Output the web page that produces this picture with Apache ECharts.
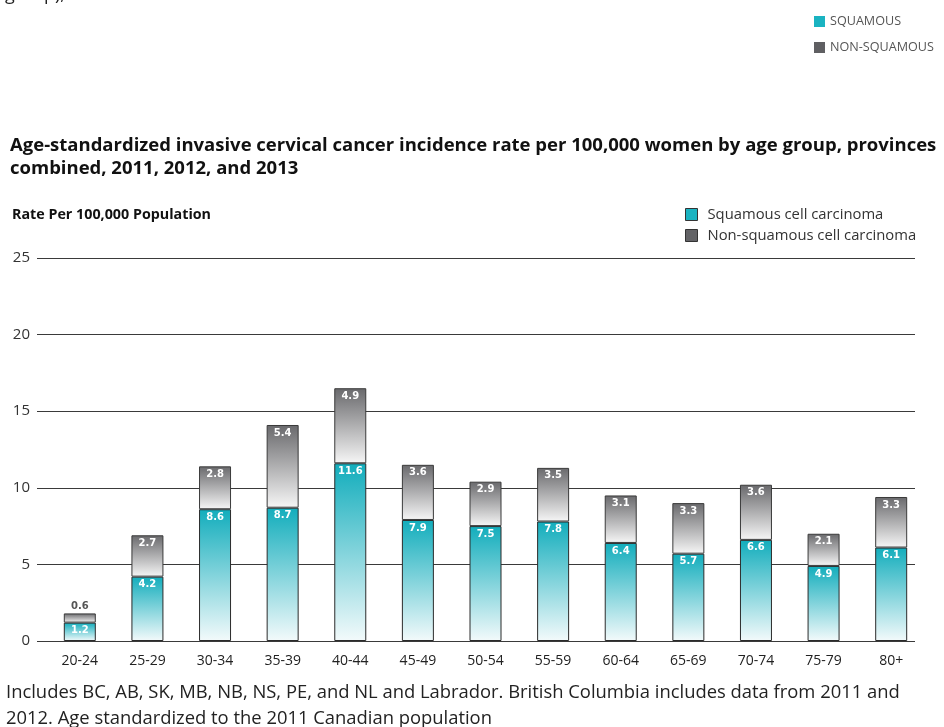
<!DOCTYPE html>
<html>
<head>
<meta charset="utf-8">
<script src="https://cdn.jsdelivr.net/npm/echarts@6/dist/echarts.min.js"></script>
<style>
  html, body { margin: 0; padding: 0; background: #fff; }
  #chart { width: 944px; height: 727px; }
</style>
</head>
<body>
<div id="chart"></div>
<script>
  // age groups and rates per 100,000
  const ageGroups = ['20-24', '25-29', '30-34', '35-39', '40-44', '45-49', '50-54',
                     '55-59', '60-64', '65-69', '70-74', '75-79', '80+'];
  const squamous = [1.2, 4.2, 8.6, 8.7, 11.6, 7.9, 7.5, 7.8, 6.4, 5.7, 6.6, 4.9, 6.1];
  const nonSquamous = [0.6, 2.7, 2.8, 5.4, 4.9, 3.6, 2.9, 3.5, 3.1, 3.3, 3.6, 2.1, 3.3];
  const yTicks = [0, 5, 10, 15, 20, 25];

  const SQ = 'Squamous cell carcinoma';
  const NSQ = 'Non-squamous cell carcinoma';
  const font = 'Open Sans';

  const chart = echarts.init(document.getElementById('chart'));

  const tealGrad = new echarts.graphic.LinearGradient(0, 0, 0, 1, [
    { offset: 0, color: '#12adbc' },
    { offset: 1, color: '#f3fafb' }
  ]);
  const greyGrad = new echarts.graphic.LinearGradient(0, 0, 0, 1, [
    { offset: 0, color: '#69696c' },
    { offset: 1, color: '#f6f6f6' }
  ]);

  const barLabel = {
    show: true,
    position: 'insideTop',
    distance: 3,
    color: '#fff',
    fontFamily: 'DejaVu Sans',
    fontWeight: 'bold',
    fontSize: 10
  };

  // the first non-squamous value is too small, its label sits above the bar
  const nonData = nonSquamous.map((v, i) => i === 0
    ? { value: v, label: { position: 'top', distance: 2, color: '#555' } }
    : v);

  chart.setOption({
    backgroundColor: '#fff',
    animation: false,
    textStyle: { fontFamily: font },
    title: [{
      // cut-off line from the text above the chart
      text: 'group), 2011 to 2013',
      left: 0,
      top: -19,
      textStyle: { fontFamily: font, fontSize: 18, fontWeight: 'normal', color: '#222' }
    }, {
      text: 'Age-standardized invasive cervical cancer incidence rate per 100,000 women by age group, provinces\ncombined, 2011, 2012, and 2013',
      left: 5,
      top: 129,
      textStyle: { fontFamily: font, fontSize: 18.5, fontWeight: 'bold', color: '#111', lineHeight: 23 }
    }, {
      text: 'Rate Per 100,000 Population',
      left: 7,
      top: 203,
      textStyle: { fontFamily: font, fontSize: 14.3, fontWeight: 'bold', color: '#111' }
    }, {
      text: 'Includes BC, AB, SK, MB, NB, NS, PE, and NL and Labrador. British Columbia includes data from 2011 and\n2012. Age standardized to the 2011 Canadian population',
      left: 1,
      top: 675,
      textStyle: { fontFamily: font, fontSize: 18.4, fontWeight: 'normal', color: '#222', lineHeight: 26 }
    }],
    legend: [{
      left: 809,
      top: 10,
      orient: 'vertical',
      itemGap: 13,
      itemWidth: 11,
      itemHeight: 11,
      icon: 'rect',
      textStyle: { fontFamily: font, fontSize: 12.6, color: '#555' },
      formatter: n => n === SQ ? 'SQUAMOUS' : 'NON-SQUAMOUS',
      data: [
        { name: SQ, itemStyle: { color: '#1ab3c1', borderWidth: 0 } },
        { name: NSQ, itemStyle: { color: '#5f5f62', borderWidth: 0 } }
      ]
    }, {
      left: 680,
      top: 202,
      orient: 'vertical',
      itemGap: 6,
      itemWidth: 12,
      itemHeight: 12,
      icon: 'rect',
      textStyle: { fontFamily: font, fontSize: 14.8, color: '#333', padding: [0, 0, 0, 5] },
      data: [
        { name: SQ, itemStyle: { color: '#1ab3c1', borderColor: '#333', borderWidth: 1 } },
        { name: NSQ, itemStyle: { color: '#636366', borderColor: '#333', borderWidth: 1 } }
      ]
    }],
    grid: [
      // grid lines and y labels
      { left: 37, right: 29, top: 258, bottom: 86 },
      // bars
      { left: 46, right: 19, top: 258, bottom: 86 }
    ],
    xAxis: [{
      gridIndex: 0,
      type: 'category',
      data: ageGroups,
      show: false
    }, {
      gridIndex: 1,
      type: 'category',
      data: ageGroups,
      axisLine: { show: false },
      axisTick: { show: false },
      axisLabel: { margin: 13, fontFamily: font, fontSize: 14, color: '#222' }
    }],
    yAxis: [{
      gridIndex: 0,
      type: 'value',
      min: yTicks[0],
      max: yTicks[yTicks.length - 1],
      interval: 5,
      axisLine: { show: false },
      axisTick: { show: false },
      axisLabel: { margin: 7, fontFamily: font, fontSize: 15, color: '#333' },
      splitLine: { lineStyle: { color: '#3a3a3a', width: 1 } }
    }, {
      gridIndex: 1,
      type: 'value',
      min: yTicks[0],
      max: yTicks[yTicks.length - 1],
      interval: 5,
      show: false,
      splitLine: { show: false }
    }],
    series: [{
      name: SQ,
      type: 'bar',
      stack: 'rate',
      xAxisIndex: 1,
      yAxisIndex: 1,
      barWidth: 32,
      itemStyle: { color: tealGrad, borderColor: '#2b2b2b', borderWidth: 1 },
      label: barLabel,
      data: squamous
    }, {
      name: NSQ,
      type: 'bar',
      stack: 'rate',
      xAxisIndex: 1,
      yAxisIndex: 1,
      barWidth: 32,
      itemStyle: { color: greyGrad, borderColor: '#3a3a3a', borderWidth: 1 },
      label: barLabel,
      data: nonData
    }]
  });

  window.onresize = () => chart.resize();
</script>
</body>
</html>
